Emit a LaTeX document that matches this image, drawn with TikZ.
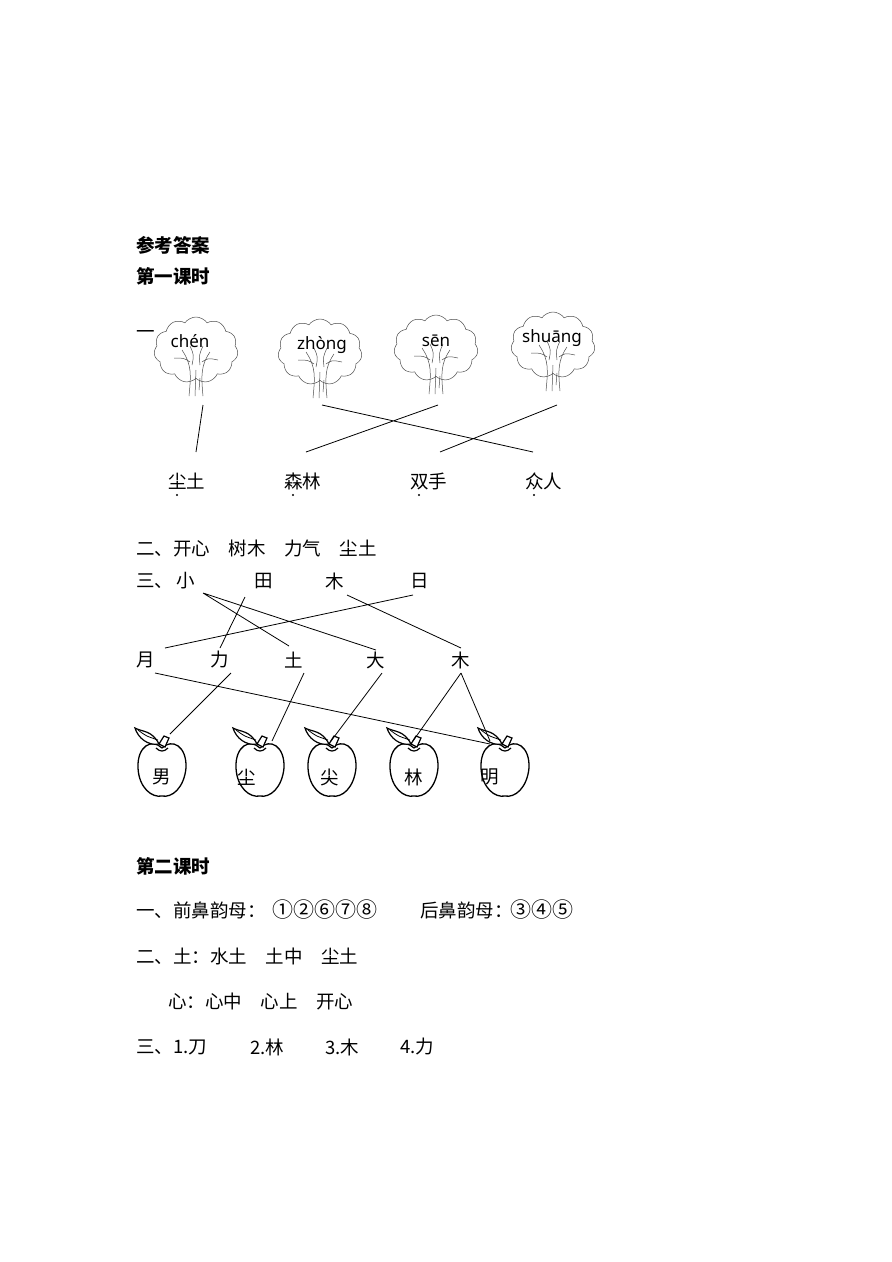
\documentclass[tikz,border=0pt]{standalone}
\usepackage{fontspec}
\setmainfont{Noto Sans CJK SC}
\newfontfamily\py{Noto Sans}
\usetikzlibrary{shapes.symbols}
\begin{document}
\begin{tikzpicture}[x=1pt,y=-1pt,
  t/.style={anchor=west,inner sep=0pt,font=\fontsize{18.5}{18}\selectfont},
  b/.style={t,font=\fontsize{18.5}{18}\selectfont\bfseries},
  c/.style={inner sep=0pt,font=\fontsize{18.5}{18}\selectfont},
  pyn/.style={font=\py\fontsize{17}{17}\selectfont},
  ln/.style={line width=0.8pt},
  tree/.pic={
    \node[cloud,cloud puffs=11,cloud puff arc=110,draw=black!70,line width=0.5pt,minimum width=84pt,minimum height=66pt,aspect=1.3] at (0,0) {};
    \draw[black!70,line width=0.5pt] (-7,46) .. controls (-5,25) and (-4,15) .. (-14,0)
      (7,46) .. controls (5,25) and (5,15) .. (14,2)
      (-4,15) .. controls (-2,5) .. (-6,-4) (4,15) .. controls (3,5) .. (7,-4)
      (-6,12) .. controls (-12,8) .. (-22,8) (6,12) .. controls (12,8) .. (22,10)
      (-1,46)--(0,20) (3,40)--(4,28);},
  apple/.pic={
    \draw[line width=1.3pt] (0,-20) .. controls (10,-30) and (25,-22) .. (24,0) .. controls (22,20) and (10,30) .. (0,28) .. controls (-10,30) and (-23,20) .. (-24,0) .. controls (-25,-22) and (-10,-30) .. (0,-20);
    \draw[line width=1.2pt] (-6,-20) .. controls (-2,-16) and (2,-16) .. (6,-20);
    \draw[line width=1.2pt,fill=white] (-3,-24) .. controls (-10,-38) and (-20,-36) .. (-27,-40) .. controls (-24,-30) and (-14,-22) .. (-3,-24) -- (2,-32) -- (7,-30) -- (3,-21) -- cycle;
    \draw[line width=0.8pt] (-24,-38) .. controls (-16,-32) .. (-4,-28);}
]
\useasboundingbox (0,0) rectangle (892,1262);
\node[b] (h1) at (136,245) {参考答案};
\node[b] (h2) at (136,276) {第一课时};
\node[t] (y1) at (136,335) {一};
\pic at (196,350) {tree}; \pic at (320,352) {tree}; \pic at (436,348) {tree}; \pic at (553,345) {tree};
\node[pyn] (p1) at (190,341) {chén};
\node[pyn] (p2) at (322,345) {zhòng};
\node[pyn] (p3) at (436,341) {sēn};
\node[pyn] (p4) at (552,338) {shuāng};
\coordinate (a1) at (203,405); \coordinate (b1) at (196,452);
\coordinate (a2) at (322,405); \coordinate (b2) at (533,452);
\coordinate (a3) at (438,405); \coordinate (b3) at (306,452);
\coordinate (a4) at (557,405); \coordinate (b4) at (440,452);
\draw[ln] (a1)--(b1) (a2)--(b2) (a3)--(b3) (a4)--(b4);
\node[t] (w1) at (168,481) {尘土}; \node[t] (w2) at (284,481) {森林};
\node[t] (w3) at (410,481) {双手}; \node[t] (w4) at (525,481) {众人};
\foreach \x in {177,293,419,534} \fill (\x,495) circle (1.1pt);
\node[t] (l2) at (136,548) {二、开心\quad 树木\quad 力气\quad 尘土};
\node[t] (l3) at (136,581) {三、};
\node[c] (s1) at (186,581) {小}; \node[c] (s2) at (264,581) {田};
\node[c] (s3) at (335,581) {木}; \node[c] (s4) at (420,581) {日};
\node[c] (m1) at (146,660) {月}; \node[c] (m2) at (220,660) {力};
\node[c] (m3) at (294,660) {土}; \node[c] (m4) at (376,660) {大}; \node[c] (m5) at (461,660) {木};
\foreach \i/\x in {1/162,2/260,3/332,4/414,5/505} {\pic at (\x,768) {apple};}
\node[c] (f1) at (162,777) {男}; \node[c] (f2) at (247,777) {尘};
\node[c] (f3) at (330,777) {尖}; \node[c] (f4) at (414,777) {林}; \node[c] (f5) at (490,777) {明};
\draw[ln] (203,593)--(289,646) (203,593)--(376,650) (245,597)--(220,648)
  (347,595)--(461,648) (413,595)--(165,648)
  (231,673)--(170,734) (304,673)--(272,741) (382,673)--(331,741)
  (461,673)--(413,741) (461,673)--(490,741) (155,673)--(490,744);
\node[b] (h3) at (136,866) {第二课时};
\node[t] (q1) at (136,910) {一、前鼻韵母：};
\node[t,font=\fontsize{21}{21}\selectfont] (q1n) at (272,910) {①②⑥⑦⑧};
\node[t] (q1b) at (420,910) {后鼻韵母：};
\node[t,font=\fontsize{21}{21}\selectfont] (q1m) at (510,910) {③④⑤};
\node[t] (q2) at (136,956) {二、土：水土\quad 土中\quad 尘土};
\node[t] (q3) at (168,1001) {心：心中\quad 心上\quad 开心};
\node[t] (q4) at (136,1047) {三、1.刀};
\node[t] (q5) at (250,1047) {2.林};
\node[t] (q6) at (325,1047) {3.木};
\node[t] (q7) at (400,1047) {4.力};
\end{tikzpicture}
\end{document}
